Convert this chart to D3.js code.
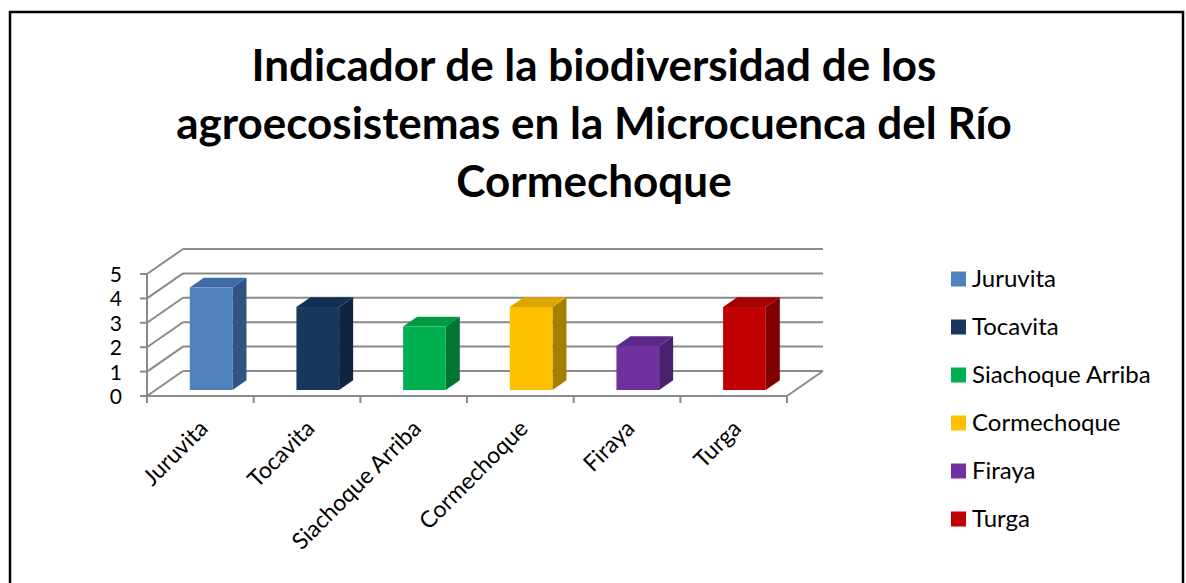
<!DOCTYPE html>
<html lang="es">
<head>
    <meta charset="UTF-8">
    <title>Indicador de la biodiversidad</title>
    <script src="https://d3js.org/d3.v7.min.js"></script>
    <style>
        body { margin: 0; background: #fff; font-family: 'Lato', sans-serif; }
        .grid { stroke: #8a8a8a; stroke-width: 2px; fill: none; }
        .tick-label { font-size: 21px; fill: #000; }
        .cat-label { font-size: 23px; fill: #000; }
        .legend-label { font-size: 24px; fill: #000; }
        .title { font-weight: bold; fill: #000; }
    </style>
</head>
<body>
<div id="chart"></div>
<script>
    const categories = ["Juruvita", "Tocavita", "Siachoque Arriba", "Cormechoque", "Firaya", "Turga"];
    const values = [4.2, 3.4, 2.6, 3.4, 1.8, 3.4];
    const frontColors = ["#4F81BD", "#17375E", "#00B050", "#FFC000", "#7030A0", "#C00000"];
    const topColors = ["#3E6BA3", "#142F52", "#009A45", "#DDA700", "#5E288A", "#A50000"];
    const sideColors = ["#2F5383", "#102440", "#007535", "#A67E00", "#4A1F6D", "#7F0000"];
    const yTicks = [0, 1, 2, 3, 4, 5];
    const titleLines = ["Indicador de la biodiversidad de los",
                        "agroecosistemas en la Microcuenca del Río",
                        "Cormechoque"];

    const W = 1186, H = 583;
    const svg = d3.select("#chart").append("svg")
        .attr("width", W).attr("height", H);

    // outer frame
    svg.append("rect")
        .attr("x", 10).attr("y", 12)
        .attr("width", 1173).attr("height", 600)
        .attr("fill", "#fff").attr("stroke", "#000").attr("stroke-width", 2.5);

    // title
    const title = svg.append("text").attr("class", "title")
        .attr("text-anchor", "middle")
        .style("font-size", "44px");
    titleLines.forEach((t, i) => {
        title.append("tspan").attr("x", 594).attr("y", 81 + i * 58).text(t);
    });

    // 3D geometry
    const x0 = 147, x1 = 787;
    const depth = {dx: 36, dy: -25};
    const x = d3.scaleBand().domain(categories).range([x0, x1]);
    const y = d3.scaleLinear().domain([0, 5]).range([396, 274]);
    const bw = x.bandwidth();

    const g = svg.append("g");

    // back wall gridlines
    g.selectAll(".back").data(yTicks).enter().append("line")
        .attr("class", "grid")
        .attr("x1", x0 + depth.dx).attr("x2", x1 + depth.dx)
        .attr("y1", d => y(d) + depth.dy).attr("y2", d => y(d) + depth.dy);

    // left wall diagonals
    g.selectAll(".side").data(yTicks).enter().append("line")
        .attr("class", "grid")
        .attr("x1", x0).attr("x2", x0 + depth.dx)
        .attr("y1", d => y(d)).attr("y2", d => y(d) + depth.dy);

    // floor right edge
    g.append("line").attr("class", "grid")
        .attr("x1", x1).attr("y1", y(0))
        .attr("x2", x1 + depth.dx).attr("y2", y(0) + depth.dy);

    // y axis
    g.append("line").attr("class", "grid")
        .attr("x1", x0).attr("x2", x0).attr("y1", y(0)).attr("y2", y(5));
    g.selectAll(".ytick").data(yTicks).enter().append("line")
        .attr("class", "grid")
        .attr("x1", x0 - 7).attr("x2", x0)
        .attr("y1", d => y(d)).attr("y2", d => y(d));
    g.selectAll(".tick-label").data(yTicks).enter().append("text")
        .attr("class", "tick-label")
        .attr("text-anchor", "end")
        .attr("x", 122).attr("y", d => y(d) + 8)
        .text(d => d);

    // x axis
    g.append("line").attr("class", "grid")
        .attr("x1", x0).attr("x2", x1).attr("y1", y(0)).attr("y2", y(0));
    const bounds = categories.map(c => x(c)).concat([x1]);
    g.selectAll(".xtick").data(bounds).enter().append("line")
        .attr("class", "grid")
        .attr("x1", d => d).attr("x2", d => d)
        .attr("y1", y(0)).attr("y2", y(0) + 7);

    // bars
    const d0 = 0.24, d1 = 0.63;
    const bars = g.selectAll(".bar").data(categories).enter().append("g");
    bars.each(function(c, i) {
        const sel = d3.select(this);
        const xl = x(c) + bw * 0.32 + d0 * depth.dx;
        const xr = xl + bw * 0.40;
        const yb = y(0) + d0 * depth.dy;
        const yt = y(values[i]) + d0 * depth.dy;
        const ox = (d1 - d0) * depth.dx, oy = (d1 - d0) * depth.dy;
        sel.append("path")
            .attr("d", `M${xr},${yt}L${xr + ox},${yt + oy}L${xr + ox},${yb + oy}L${xr},${yb}Z`)
            .attr("fill", sideColors[i]);
        sel.append("path")
            .attr("d", `M${xl},${yt}L${xl + ox},${yt + oy}L${xr + ox},${yt + oy}L${xr},${yt}Z`)
            .attr("fill", topColors[i]);
        sel.append("rect")
            .attr("x", xl).attr("y", yt)
            .attr("width", xr - xl).attr("height", yb - yt)
            .attr("fill", frontColors[i]);
    });

    // category labels
    g.selectAll(".cat-label").data(categories).enter().append("text")
        .attr("class", "cat-label")
        .attr("text-anchor", "end")
        .attr("transform", d => `translate(${x(d) + bw / 2 + 9},${430}) rotate(-45)`)
        .text(d => d);

    // legend
    const legend = svg.append("g");
    categories.forEach((c, i) => {
        const ly = 279 + i * 48;
        legend.append("rect")
            .attr("x", 951).attr("y", ly - 7.5)
            .attr("width", 15).attr("height", 15)
            .attr("fill", frontColors[i]);
        legend.append("text")
            .attr("class", "legend-label")
            .attr("x", 972).attr("y", ly + 8)
            .text(c);
    });
</script>
</body>
</html>
